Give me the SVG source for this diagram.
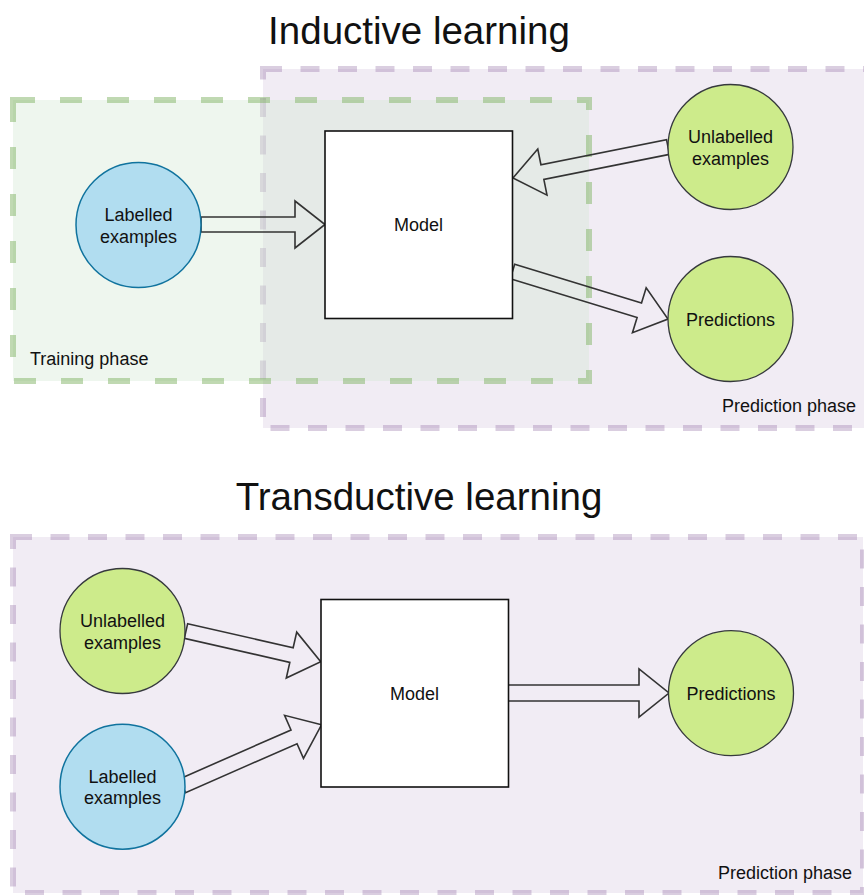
<svg xmlns="http://www.w3.org/2000/svg" width="864" height="895" viewBox="0 0 864 895">
<style>
text{font-family:"Liberation Sans",Arial,Helvetica,sans-serif;fill:#111;}
.title{font-size:38.5px;text-anchor:middle;}
.lbl{font-size:18px;text-anchor:middle;}
.phase{font-size:18px;}
.purple{fill:#e1d5e7;fill-opacity:0.45;stroke:#9673a6;stroke-opacity:0.35;stroke-width:6;stroke-dasharray:19 18.5;}
.green{fill:#d5e8d4;fill-opacity:0.4;stroke:#82b366;stroke-opacity:0.5;stroke-width:6;stroke-dasharray:22 25;}
.blue{fill:#b1ddf0;stroke:#10739e;stroke-width:1.5;}
.lime{fill:#cdeb8b;stroke:#36393d;stroke-width:1.3;}
.model{fill:#ffffff;stroke:#111;stroke-width:1.6;}
.arr{fill:none;stroke:#333;stroke-width:1.6;stroke-linejoin:miter;}
</style>
<rect width="864" height="895" fill="#ffffff"/>

<text class="title" x="419" y="44">Inductive learning</text>
<text class="title" x="419" y="510">Transductive learning</text>

<g id="prediction-phase-top">
<rect class="purple" x="263" y="69" width="640" height="359"/>
<text class="phase" x="856" y="412" text-anchor="end">Prediction phase</text>
</g>
<g id="training-phase">
<rect class="green" x="13" y="100" width="576" height="281"/>
<text class="phase" x="30" y="365">Training phase</text>
</g>
<g id="prediction-phase-bottom">
<rect class="purple" x="13" y="537" width="850" height="356"/>
<text class="phase" x="852" y="879" text-anchor="end">Prediction phase</text>
</g>

<g id="connectors">
<polygon class="arr" transform="translate(201,224.5)" points="0,-7.5 94,-7.5 94,-23.5 124,0 94,23.5 94,7.5 0,7.5"/>
<polygon class="arr" transform="translate(668,147) rotate(168.69)" points="0,-7.5 128.1,-7.5 128.1,-23.5 158.1,0 128.1,23.5 128.1,7.5 0,7.5"/>
<polygon class="arr" transform="translate(512.5,271.5) rotate(16.99)" points="0,-7.5 132.6,-7.5 132.6,-23.5 162.6,0 132.6,23.5 132.6,7.5 0,7.5"/>
<polygon class="arr" transform="translate(186,631) rotate(12.84)" points="0,-7.5 108.2,-7.5 108.2,-23.5 138.2,0 108.2,23.5 108.2,7.5 0,7.5"/>
<polygon class="arr" transform="translate(182.5,785.8) rotate(-23.7)" points="0,-7.5 121.8,-7.5 121.8,-23.5 151.8,0 121.8,23.5 121.8,7.5 0,7.5"/>
<polygon class="arr" transform="translate(508,693)" points="0,-8 131,-8 131,-24 161,0 131,24 131,8 0,8"/>
</g>

<g id="labelled-top">
<circle class="blue" cx="138.5" cy="225" r="62.5"/>
<text class="lbl" x="138.5" y="221">Labelled</text>
<text class="lbl" x="138.5" y="242.5">examples</text>
</g>
<g id="model-top">
<rect class="model" x="325" y="131" width="187.5" height="187.5"/>
<text class="lbl" x="418.5" y="231">Model</text>
</g>
<g id="unlabelled-top">
<circle class="lime" cx="730.5" cy="147" r="62.5"/>
<text class="lbl" x="730.5" y="143">Unlabelled</text>
<text class="lbl" x="730.5" y="164.5">examples</text>
</g>
<g id="predictions-top">
<circle class="lime" cx="730.5" cy="319" r="62.5"/>
<text class="lbl" x="730.5" y="325.5">Predictions</text>
</g>

<g id="unlabelled-bottom">
<circle class="lime" cx="122.5" cy="631" r="62.5"/>
<text class="lbl" x="122.5" y="627">Unlabelled</text>
<text class="lbl" x="122.5" y="648.5">examples</text>
</g>
<g id="labelled-bottom">
<circle class="blue" cx="122.5" cy="786.7" r="62.5"/>
<text class="lbl" x="122.5" y="782.5">Labelled</text>
<text class="lbl" x="122.5" y="804">examples</text>
</g>
<g id="model-bottom">
<rect class="model" x="321" y="599.5" width="187.5" height="187.5"/>
<text class="lbl" x="414.5" y="699.5">Model</text>
</g>
<g id="predictions-bottom">
<circle class="lime" cx="731" cy="693.2" r="62.5"/>
<text class="lbl" x="731" y="699.5">Predictions</text>
</g>
</svg>
